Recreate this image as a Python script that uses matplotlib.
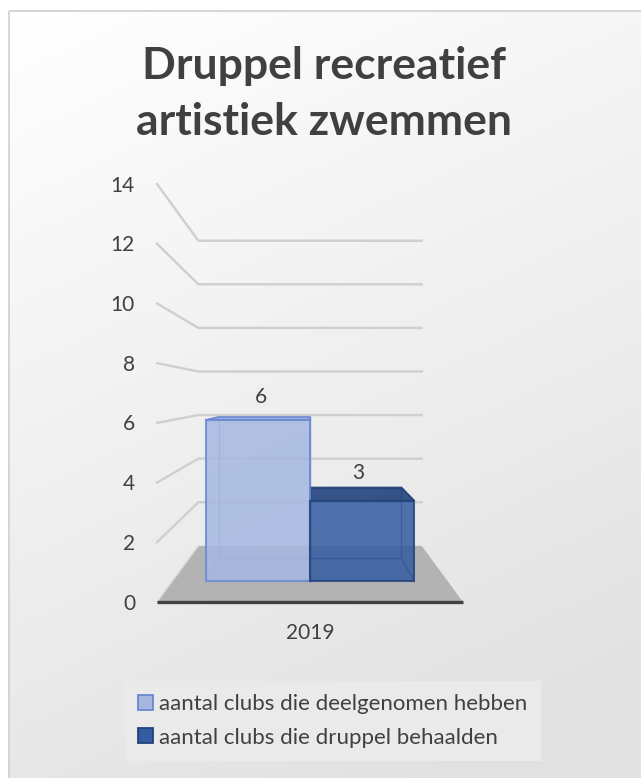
import numpy as np
import matplotlib
matplotlib.use("Agg")
import matplotlib.pyplot as plt
from matplotlib.patches import Polygon, Rectangle

# -----------------------------------------------------------------------------
# data
# -----------------------------------------------------------------------------
title = "Druppel recreatief\nartistiek zwemmen"
categories = ["2019"]
series_names = ["aantal clubs die deelgenomen hebben", "aantal clubs die druppel behaalden"]
series_values = [[6], [3]]
y_ticks = [0, 2, 4, 6, 8, 10, 12, 14]

# -----------------------------------------------------------------------------
# style
# -----------------------------------------------------------------------------
face_colors = ['#A5B7E1', '#335CA2']
top_colors = ['#9AAEDD', '#22437C']
edge_colors = ['#6A88D2', '#24427A']
hidden_colors = ['#7F99D8', '#2A4A85']
text_color = '#404040'
grid_color = '#CFCFCF'
font = ['Lato', 'DejaVu Sans']

W, H = 641, 778
# 3D box of the plot, in pixel space
FX0, FX1 = 157, 463      # front edge of the floor
FY0, FY_TOP = 602, 184   # front plane: value 0 and value y_max
VPX, VPY = 310, 394      # vanishing point
K = 0.37                 # depth strength (back plane scale = 1/(1+K))
GAP = 0.122              # gap on both sides of a category group
BAR_Z = (0.3, 0.72)      # bar depth range


def proj(x, v, z):
    s = 1.0 / (1.0 + K * z)
    xf = FX0 + (FX1 - FX0) * x
    yf = FY0 + (FY_TOP - FY0) * v / y_ticks[-1]
    return VPX + (xf - VPX) * s, VPY + (yf - VPY) * s


def poly(pts, **kw):
    return Polygon([proj(*p) for p in pts], closed=True, **kw)


def line(ax, pts, **kw):
    xy = np.array([proj(*p) for p in pts])
    ax.plot(xy[:, 0], xy[:, 1], **kw)


plt.rcParams['font.family'] = font
fig = plt.figure(figsize=(W / 100, H / 100), dpi=100, facecolor='white')
ax = fig.add_axes([0, 0, 1, 1])
ax.set_xlim(0, W)
ax.set_ylim(H, 0)
ax.axis('off')

# chart area background (soft gradient) + border
yy, xx = np.mgrid[0:1:200j, 0:1:200j]
t = np.clip(0.8 * yy + 0.3 * xx, 0, 1)
g = 1.0 - 0.115 * t
bg = np.dstack([g, g, g])
ax.imshow(bg, extent=(8, W, H, 10), aspect='auto', zorder=0, interpolation='bilinear')
ax.add_patch(Rectangle((8.5, 10.5), W, H, fill=False, edgecolor='#D0D0D0', lw=1.2, zorder=1))

# floor
ax.add_patch(poly([(0, 0, 0), (1, 0, 0), (1, 0, 1), (0, 0, 1)],
                  facecolor='#B3B3B3', edgecolor='none', zorder=2))
line(ax, [(0, 0, 0), (0, 0, 1)], color='#DADADA', lw=1.0, zorder=2)

# gridlines: left wall + back wall
for v in y_ticks[1:]:
    line(ax, [(0, v, 0), (0, v, 1), (1, v, 1)], color=grid_color, lw=1.7,
         solid_joinstyle='miter', zorder=2)

# front axis line
line(ax, [(0, 0, 0), (1, 0, 0)], color='#404040', lw=2.4, solid_capstyle='butt', zorder=6)

# tick labels
for v in y_ticks:
    x, y = proj(0, v, 0)
    ax.text(x - 22, y + 1.5, str(v), ha='right', va='center', fontsize=15, color=text_color)

# bars
n_cat = len(categories)
n_ser = len(series_values)
zf, zb = BAR_Z
for ci, cat in enumerate(categories):
    c0 = ci / n_cat
    cw = 1.0 / n_cat
    bw = cw * (1 - 2 * GAP) / n_ser
    for si, vals in enumerate(series_values):
        h = vals[ci]
        x0 = c0 + cw * GAP + si * bw
        x1 = x0 + bw
        # hidden edges (seen through the transparent faces)
        line(ax, [(x0, 0, zb), (x1, 0, zb), (x1, h, zb), (x0, h, zb), (x0, 0, zb)],
             color=hidden_colors[si], lw=1.0, alpha=0.8, zorder=3)
        for (xe, ve) in [(x0, 0), (x1, 0), (x1, h), (x0, h)]:
            line(ax, [(xe, ve, zf), (xe, ve, zb)], color=hidden_colors[si], lw=1.0,
                 alpha=0.8, zorder=3)
        # top face
        ax.add_patch(poly([(x0, h, zf), (x1, h, zf), (x1, h, zb), (x0, h, zb)],
                          facecolor=top_colors[si], alpha=0.9, edgecolor=edge_colors[si],
                          lw=1.3, zorder=4))
        # front face
        ax.add_patch(poly([(x0, 0, zf), (x1, 0, zf), (x1, h, zf), (x0, h, zf)],
                          facecolor=face_colors[si], alpha=0.85, edgecolor=edge_colors[si],
                          lw=1.5, zorder=5))
        # data label
        lx, ly = proj((x0 + x1) / 2, h, (zf + zb) / 2)
        ax.annotate(str(h), (lx, ly), xytext=(0, 15), textcoords='offset points',
                    ha='center', va='center', fontsize=15, color=text_color, zorder=7)
    # category label
    cx, cy = proj(c0 + cw / 2, 0, 0)
    ax.text(cx, cy + 31, cat, ha='center', va='center', fontsize=15, color=text_color)

# title
ax.text(324, 94, title, ha='center', va='center', fontsize=32, fontweight='bold',
        color=text_color, linespacing=1.47)

# legend
handles = [Rectangle((0, 0), 1, 1, facecolor=face_colors[i], edgecolor=edge_colors[i], lw=1.3)
           for i in range(n_ser)]
leg = ax.legend(handles, series_names, loc='upper left', bbox_to_anchor=(125, 681),
                bbox_transform=ax.transData, fontsize=16, frameon=True, fancybox=False,
                framealpha=1, facecolor='#EAEAEA', edgecolor='none', handlelength=0.65,
                handleheight=0.65, handletextpad=0.3, labelspacing=0.6, borderpad=0.6,
                borderaxespad=0, labelcolor=text_color)
leg.set_zorder(8)

fig.savefig('out.png', dpi=100, facecolor='white')
